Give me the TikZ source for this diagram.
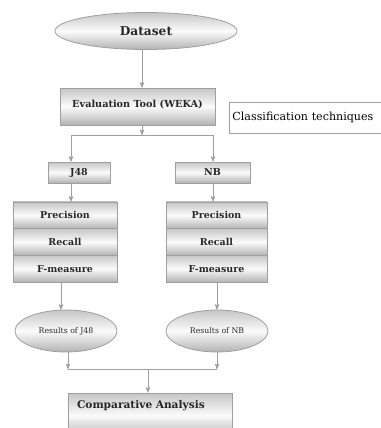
\documentclass[tikz,border=0pt]{standalone}
\usepackage{fontspec}
\setmainfont{DejaVu Serif}
\usepackage{pgf,tikz}
\usetikzlibrary{shapes.geometric}
\usetikzlibrary{arrows}
\usepackage{xcolor}

\begin{document}
\begin{tikzpicture}[x=1pt,y=-1pt,>=stealth',auto,node distance=26.7pt,
                    line width=0.9pt,draw=gray!75,
                    shade node/.style={draw=gray!75,line width=0.8pt,top color=gray!45,bottom color=gray!60,middle color=gray!3,text=black!85},
                    box node/.style={shade node,rectangle,inner sep=0pt,font=\fontsize{9.5}{11}\selectfont\bfseries},
                    oval node/.style={shade node,ellipse,inner sep=0pt,font=\fontsize{7.8}{9}\selectfont},
                    plain box/.style={draw=gray!75,line width=0.8pt,fill=white,rectangle,anchor=west,inner xsep=3pt,text width=159pt,align=left,font=\fontsize{11.1}{13}\selectfont}]
  \useasboundingbox (0,0) rectangle (380,428);
  % Nodes
    \node[oval node,minimum width=182pt,minimum height=37pt,font=\fontsize{12.2}{14}\selectfont\bfseries] (dataset) at (146,31) {Dataset};
    \node[box node,minimum width=155pt,minimum height=37pt,text depth=6pt,font=\fontsize{9.7}{11}\selectfont\bfseries] (weka) at (137.5,106.5) {Evaluation Tool (WEKA)};
    \node[plain box,minimum height=31pt] (tech) at (229,117.5) {Classification techniques};

    \node[box node,minimum width=62pt,minimum height=21pt] (j48) at (79,172.5) {J48};
    \node[box node,minimum width=75pt,minimum height=21pt] (nb) at (212.5,172.5) {NB};

    \node[box node,minimum width=104pt,minimum height=26.7pt] (pj48) at (65,215.3) {Precision};
    \node[box node,minimum width=104pt,minimum height=26.7pt] (rcj48) [below of = pj48] {Recall};
    \node[box node,minimum width=104pt,minimum height=26.7pt] (fj48) [below of = rcj48] {F-measure};

    \node[box node,minimum width=101pt,minimum height=26.7pt] (pnb) at (216.5,215.3) {Precision};
    \node[box node,minimum width=101pt,minimum height=26.7pt] (rcnb) [below of = pnb] {Recall};
    \node[box node,minimum width=101pt,minimum height=26.7pt] (fnb) [below of = rcnb] {F-measure};

    \node[oval node,minimum width=102pt,minimum height=42pt] (resj48) at (66,331) {Results of J48};
    \node[oval node,minimum width=102pt,minimum height=42pt] (resnb) at (217,331) {Results of NB};

    \node[box node,minimum width=164pt,minimum height=45pt,text depth=22pt,inner xsep=9pt,text width=146pt,align=left,font=\fontsize{10.6}{12}\selectfont\bfseries] (comp) at (150,415.5) {Comparative Analysis};

    \coordinate (split) at (142,135);
    \coordinate (lcol) at (71,135);
    \coordinate (rcol) at (213,135);
    \coordinate (lres) at (61,0);
    \coordinate (ljoin) at (68,369);
    \coordinate (rjoin) at (217,369);
    \coordinate (join) at (148,369);

  % Edges
    \draw[->] (dataset.south -| split) -- (weka.north -| split);
    \draw[->] (weka.south -| split) -- (split);
    \draw     (lcol) -- (rcol);
    \draw[->] (lcol) -- (j48.north -| lcol);
    \draw[->] (rcol) -- (nb.north -| rcol);
    \draw[->] (j48.south -| lcol) -- (pj48.north -| lcol);
    \draw[->] (nb.south -| rcol) -- (pnb.north -| rcol);
    \draw[->] (fj48.south -| lres) -- (resj48.north -| lres);
    \draw[->] (fnb.south -| rjoin) -- (resnb.north -| rjoin);
    \draw[->] (resj48.south -| ljoin) -- (ljoin);
    \draw[->] (resnb.south -| rjoin) -- (rjoin);
    \draw     (ljoin) -- (rjoin);
    \draw[->] (join) -- (comp.north -| join);
\end{tikzpicture}
\end{document}
